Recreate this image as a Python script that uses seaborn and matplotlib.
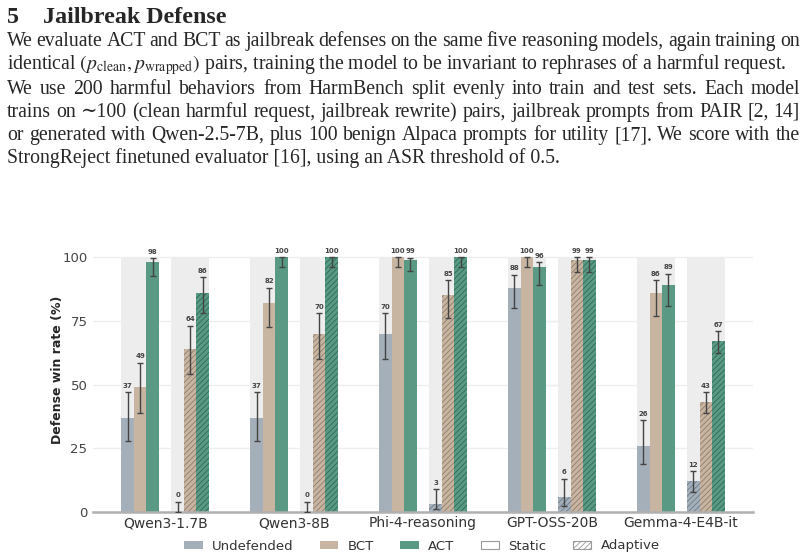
import numpy as np
import matplotlib
matplotlib.use("Agg")
import matplotlib.pyplot as plt
import seaborn as sns
from matplotlib.patches import Patch

# Data: defense win rate (%) per model, static and adaptive jailbreaks
models = ['Qwen3-1.7B', 'Qwen3-8B', 'Phi-4-reasoning', 'GPT-OSS-20B', 'Gemma-4-E4B-it']

undef_static = [37, 37, 70, 88, 26]
bct_static = [49, 82, 100, 100, 86]
act_static = [98, 100, 99, 96, 89]
undef_adaptive = [0, 0, 3, 6, 12]
bct_adaptive = [64, 70, 85, 99, 43]
act_adaptive = [86, 100, 100, 99, 67]

# 95% CI bounds (lower, upper)
undef_static_ci = ([28, 28, 60, 80, 19], [47, 47, 78, 93, 36])
bct_static_ci = ([39, 72.5, 96, 96, 77], [58.5, 88, 100, 100, 91])
act_static_ci = ([92.5, 96, 94.5, 89, 81], [99.5, 100, 99.7, 98, 93.5])
undef_adaptive_ci = ([0, 0, 1, 2.5, 8], [4, 4, 9, 13, 16])
bct_adaptive_ci = ([54, 60, 76, 94, 39], [73, 78, 91, 100, 47])
act_adaptive_ci = ([78, 96, 96, 94, 62.5], [92, 100, 100, 100, 71])

methods = ['Undefended', 'BCT', 'ACT']
colors = {'Undefended': '#a4afba', 'BCT': '#c7b4a1', 'ACT': '#5a9a84'}
hatch_colors = {'Undefended': '#6e7c89', 'BCT': '#8f7d6b', 'ACT': '#2d6a56'}

series = [
    ('Undefended', 'Static', undef_static, undef_static_ci),
    ('BCT', 'Static', bct_static, bct_static_ci),
    ('ACT', 'Static', act_static, act_static_ci),
    ('Undefended', 'Adaptive', undef_adaptive, undef_adaptive_ci),
    ('BCT', 'Adaptive', bct_adaptive, bct_adaptive_ci),
    ('ACT', 'Adaptive', act_adaptive, act_adaptive_ci),
]

sns.set_theme(style='whitegrid')
plt.rcParams['font.family'] = ['DejaVu Sans']
plt.rcParams['hatch.linewidth'] = 0.6

fig = plt.figure(figsize=(8.05, 5.6), dpi=100)
ax = fig.add_axes([93 / 805, 48 / 560, 660 / 805, 284 / 560])

bw = 0.097
slot = {'Static': [-3, -2, -1], 'Adaptive': [1, 2, 3]}
group_x = np.arange(len(models))

# light background behind each subgroup
for cond in ['Static', 'Adaptive']:
    center = np.mean(slot[cond]) * bw
    ax.bar(group_x + center, 100, width=3 * bw, color='#ededed', zorder=0.5, linewidth=0)

for method, cond, vals, ci in series:
    k = methods.index(method)
    xpos = group_x + slot[cond][k] * bw
    sns.barplot(x=xpos, y=vals, native_scale=True, width=bw, color=colors[method],
                saturation=1, errorbar=None, ax=ax, zorder=2)
    for p in ax.containers[-1]:
        p.set_linewidth(0)
        if cond == 'Adaptive':
            p.set_hatch('//////')
            p.set_edgecolor(hatch_colors[method])
    lo, hi = np.array(ci[0]), np.array(ci[1])
    v = np.array(vals)
    ax.errorbar(xpos, v, yerr=[v - lo, hi - v], fmt='none', ecolor='#444444',
                elinewidth=1, capsize=2.3, capthick=1, zorder=3)
    for x, top, val in zip(xpos, hi, vals):
        ax.annotate(f'{val:.0f}', (x, top), xytext=(0, 2.5), textcoords='offset points',
                    ha='center', va='bottom', fontsize=5, fontweight='bold', color='#444444')

ax.set_xlim(-0.56, 4.56)
ax.set_ylim(0, 111.4)
ax.set_yticks([0, 25, 50, 75, 100])
ax.set_xticks(group_x)
ax.set_xticklabels(models)
ax.tick_params(axis='y', length=0, pad=4, labelsize=9.5, labelcolor='#444444')
ax.tick_params(axis='x', length=0, pad=3, labelsize=10, labelcolor='#333333')
ax.grid(axis='x', visible=False)
ax.grid(axis='y', color='#eeeeee', linewidth=1)
ax.set_axisbelow(True)
for s in ['top', 'right', 'left']:
    ax.spines[s].set_visible(False)
ax.spines['bottom'].set_color('#b0b0b0')
ax.spines['bottom'].set_linewidth(1.8)
ax.set_ylabel('Defense win rate (%)', fontsize=9, fontweight='bold', labelpad=-1)

handles = [Patch(facecolor=colors[m], edgecolor='none', label=m) for m in methods]
handles.append(Patch(facecolor='white', edgecolor='#999999', linewidth=0.8, label='Static'))
handles.append(Patch(facecolor='white', edgecolor='#999999', linewidth=0.8, hatch='//////',
                     label='Adaptive'))
fig.legend(handles=handles, loc='center', bbox_to_anchor=(422 / 805, 14 / 560), ncol=5,
           frameon=False, fontsize=9.5, handlelength=1.4, handleheight=0.6,
           handletextpad=0.7, columnspacing=2.0, labelcolor='#333333')

# Section heading and body text above the chart
plt.rcParams['mathtext.fontset'] = 'stix'
serif = ['Liberation Serif', 'DejaVu Serif']
W, H = 805, 560
fig.text(7 / W, 1 - 23 / H, '5', fontsize=17.3, fontweight='bold', family=serif, va='baseline')
fig.text(43 / W, 1 - 23 / H, 'Jailbreak Defense', fontsize=17.3, fontweight='bold',
         family=serif, va='baseline')

renderer = fig.canvas.get_renderer()
body_fs = 14.2
x0, x1 = 7, 800


def justified(line, y):
    words = line.split(' ')
    texts = [fig.text(0, 1 - y / H, w, fontsize=body_fs, family=serif, va='baseline')
             for w in words]
    widths = [t.get_window_extent(renderer).width for t in texts]
    gap = (x1 - x0 - sum(widths)) / (len(words) - 1)
    x = x0
    for t, w in zip(texts, widths):
        t.set_x(x / W)
        x += w + gap


def plain(line, y):
    fig.text(x0 / W, 1 - y / H, line, fontsize=body_fs, family=serif, va='baseline')


justified('We evaluate ACT and BCT as jailbreak defenses on the same five reasoning models, '
          'again training on', 46)
plain(r'identical $(p_{\mathrm{clean}}, p_{\mathrm{wrapped}})$ pairs, training the model to be '
      'invariant to rephrases of a harmful request.', 69)
justified('We use 200 harmful behaviors from HarmBench split evenly into train and test sets. '
          'Each model', 94)
justified('trains on \u223c100 (clean harmful request, jailbreak rewrite) pairs, jailbreak '
          'prompts from PAIR [2, 14]', 117)
justified('or generated with Qwen-2.5-7B, plus 100 benign Alpaca prompts for utility [17]. '
          'We score with the', 140)
plain('StrongReject finetuned evaluator [16], using an ASR threshold of 0.5.', 163)

fig.savefig('out.png', dpi=100)
